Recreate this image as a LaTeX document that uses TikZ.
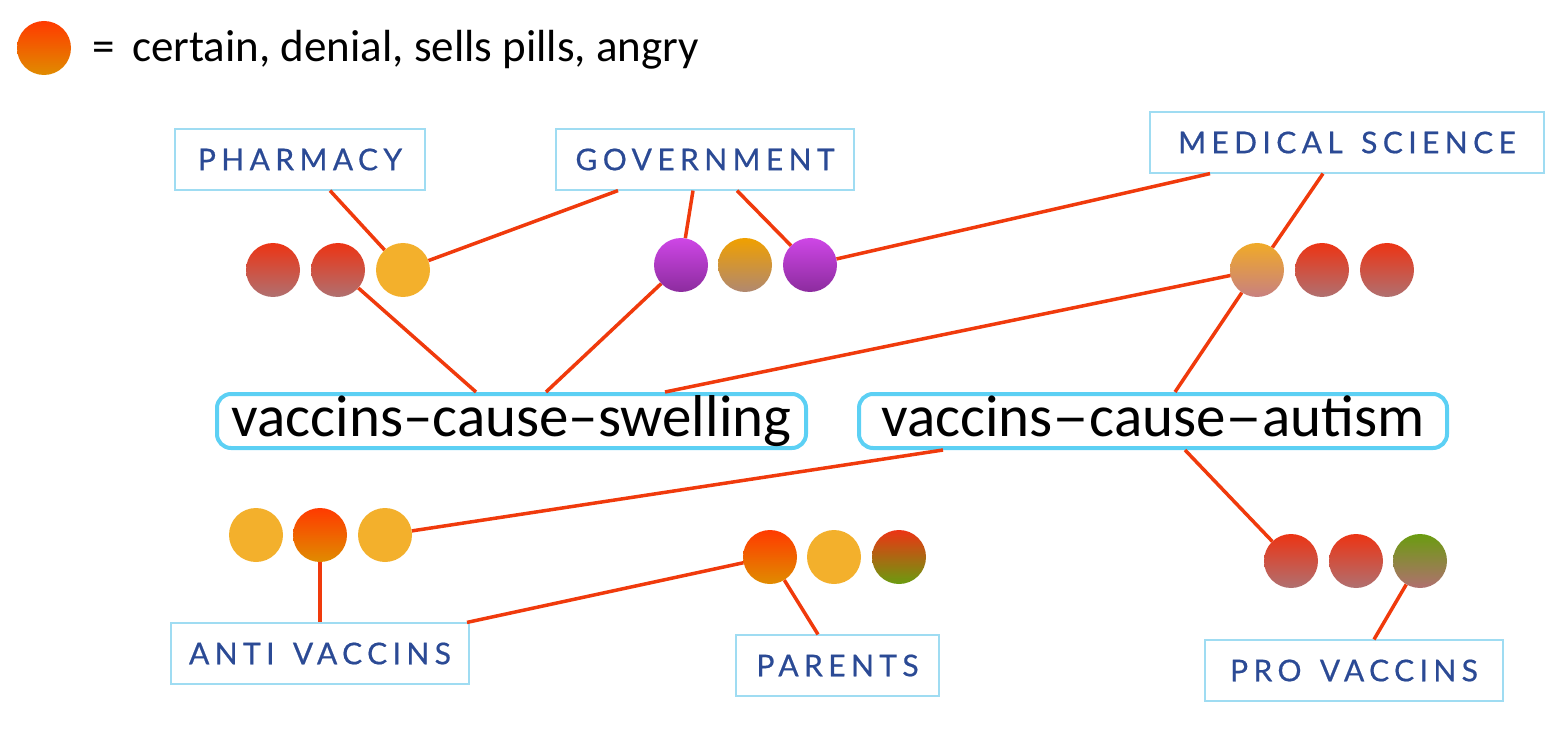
\documentclass[tikz,border=0pt]{standalone}
\usepackage{fontspec}
\setmainfont{Carlito}
\newfontfamily\capsfont[LetterSpace=18,FakeBold=0.6,WordSpace=1.4]{Lato}
\usetikzlibrary{calc}
\definecolor{linkred}{HTML}{F03A0C}
\definecolor{boxblue}{HTML}{9FDCF2}
\definecolor{claimblue}{HTML}{5CD0F4}
\definecolor{capblue}{HTML}{2B4A95}
\definecolor{redtop}{HTML}{EC3414}
\definecolor{redbot}{HTML}{B07070}
\definecolor{orgtop}{HTML}{FF3A00}
\definecolor{orgbot}{HTML}{E08C00}
\definecolor{purtop}{HTML}{CE46E6}
\definecolor{purbot}{HTML}{8C2C9E}
\definecolor{brntop}{HTML}{F0A000}
\definecolor{brnbot}{HTML}{B08870}
\definecolor{pchtop}{HTML}{F0AA28}
\definecolor{pchbot}{HTML}{C88080}
\definecolor{yel}{HTML}{F3B02C}
\definecolor{grntop}{HTML}{6A9C10}
\tikzset{
  dot/.style={circle,minimum size=54pt,inner sep=0pt},
  reddot/.style={dot,top color=redtop,bottom color=redbot},
  orgdot/.style={dot,top color=orgtop,bottom color=orgbot},
  purdot/.style={dot,top color=purtop,bottom color=purbot},
  brndot/.style={dot,top color=brntop,bottom color=brnbot},
  pchdot/.style={dot,top color=pchtop,bottom color=pchbot},
  yeldot/.style={dot,fill=yel},
  rgdot/.style={dot,top color=redtop,bottom color=grntop},
  grdot/.style={dot,top color=grntop,bottom color=redbot},
  catbox/.style={draw=boxblue,line width=1.2pt,fill=white,minimum height=61pt,
    inner sep=0pt,text=capblue,font=\capsfont\fontsize{30}{36}\selectfont},
  claim/.style={draw=claimblue,line width=4pt,rounded corners=14pt,
    minimum height=54pt,inner sep=0pt,text height=42pt,text depth=12pt,
    font=\fontsize{59}{70}\selectfont},
  link/.style={draw=linkred,line width=3.5pt}
}
\begin{document}
\begin{tikzpicture}[x=1pt,y=-1pt]
\useasboundingbox (0,0) rectangle (1566,735);
% legend
\node[orgdot] (leg) at (44,48) {};
\node[anchor=base west,inner sep=0pt,font=\fontsize{45}{54}\selectfont] (legtext) at (92,62) {=\, certain, denial, sells pills, angry};
% category boxes
\node[catbox,minimum width=250pt] (pharm) at (300,159.5) {PHARMACY};
\node[catbox,minimum width=298pt] (gov) at (705,159.5) {GOVERNMENT};
\node[catbox,minimum width=394pt] (med) at (1347,142.5) {MEDICAL SCIENCE};
\node[catbox,minimum width=298pt] (anti) at (320,653.5) {ANTI VACCINS};
\node[catbox,minimum width=203pt] (par) at (837.5,665.5) {PARENTS};
\node[catbox,minimum width=298pt] (pro) at (1354,670.5) {PRO VACCINS};
% claims
\node[claim,minimum width=589pt] (sw) at (511.5,421) {vaccins–cause–swelling};
\node[claim,minimum width=588pt] (au) at (1153,421) {vaccins\scalebox{1.25}[1]{–}cause\scalebox{1.25}[1]{–}autism};
% dots
\node[reddot] (c11) at (273,270) {};
\node[reddot] (c12) at (338,270) {};
\node[yeldot] (c13) at (403,270) {};
\node[purdot] (c21) at (681,265) {};
\node[brndot] (c22) at (745,265) {};
\node[purdot] (c23) at (810,265) {};
\node[pchdot] (c31) at (1257,270) {};
\node[reddot] (c32) at (1322,270) {};
\node[reddot] (c33) at (1387,270) {};
\node[yeldot] (c41) at (256,535) {};
\node[orgdot] (c42) at (320,535) {};
\node[yeldot] (c43) at (385,535) {};
\node[orgdot] (c51) at (770,557) {};
\node[yeldot] (c52) at (834,557) {};
\node[rgdot] (c53) at (899,557) {};
\node[reddot] (c61) at (1291,561) {};
\node[reddot] (c62) at (1356,561) {};
\node[grdot] (c63) at (1420,561) {};
% links
\draw[link] ([xshift=30pt]pharm.south) -- (c13);
\draw[link] ([xshift=-87pt]gov.south) -- (c13);
\draw[link] (c12) -- ([xshift=-35.5pt]sw.north);
\draw[link] ([xshift=-12pt]gov.south) -- (c21);
\draw[link] ([xshift=32pt]gov.south) -- (c23);
\draw[link] ([xshift=-137pt]med.south) -- (c23);
\draw[link] (c21) -- ([xshift=34.5pt]sw.north);
\draw[link] ([xshift=-24pt]med.south) -- (c31);
\draw[link] (c31) -- ([xshift=153.5pt]sw.north);
\draw[link] (c31) -- ([xshift=22pt]au.north);
\draw[link] ([xshift=-210pt]au.south) -- (c43);
\draw[link] ([xshift=32pt]au.south) -- (c61);
\draw[link] (c42) -- (anti.north);
\draw[link] (c51) -- ([xshift=147pt]anti.north);
\draw[link] (c51) -- ([xshift=-19.5pt]par.north);
\draw[link] (c63) -- ([xshift=20pt]pro.north);
\end{tikzpicture}
\end{document}
